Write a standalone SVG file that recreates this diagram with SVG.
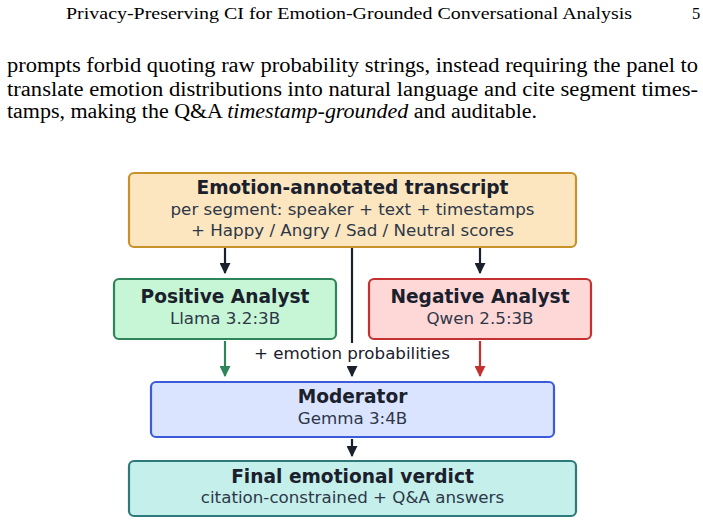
<svg xmlns="http://www.w3.org/2000/svg" width="703" height="524" viewBox="0 0 703 524">
<style>
.page{font-family:"Liberation Serif","DejaVu Serif",serif;fill:#000}
.hdr{font-size:16.5px}
.body{font-size:20px}
.box{stroke-width:2.2}
.t{font-family:"DejaVu Sans",sans-serif;font-weight:bold;font-size:18.6px;fill:#1a202c;text-anchor:middle}
.s{font-family:"DejaVu Sans",sans-serif;font-size:16.7px;fill:#2d3748;text-anchor:middle}
.lab{font-family:"DejaVu Sans",sans-serif;font-size:16.7px;fill:#1a202c;text-anchor:middle}
.ln{stroke-width:2.2;fill:none}
</style>
<defs>
<marker id="ak" viewBox="0 0 10 10" refX="9" refY="5" markerWidth="5" markerHeight="5" markerUnits="strokeWidth" orient="auto"><path d="M0,0L10,5L0,10z" fill="#1a202c"/></marker>
<marker id="ag" viewBox="0 0 10 10" refX="9" refY="5" markerWidth="5" markerHeight="5" markerUnits="strokeWidth" orient="auto"><path d="M0,0L10,5L0,10z" fill="#2f855a"/></marker>
<marker id="ar" viewBox="0 0 10 10" refX="9" refY="5" markerWidth="5" markerHeight="5" markerUnits="strokeWidth" orient="auto"><path d="M0,0L10,5L0,10z" fill="#c53030"/></marker>
</defs>
<rect width="703" height="524" fill="#fff"/>
<g id="page-text" class="page">
<text class="hdr" x="66" y="19" textLength="566" lengthAdjust="spacingAndGlyphs">Privacy-Preserving CI for Emotion-Grounded Conversational Analysis</text>
<text class="hdr" x="692" y="19">5</text>
<text class="body" x="7" y="72" textLength="691" lengthAdjust="spacingAndGlyphs">prompts forbid quoting raw probability strings, instead requiring the panel to</text>
<text class="body" x="7" y="96" textLength="691" lengthAdjust="spacingAndGlyphs">translate emotion distributions into natural language and cite segment times-</text>
<text class="body" x="7" y="118" textLength="530" lengthAdjust="spacingAndGlyphs">tamps, making the Q&amp;A <tspan font-style="italic">timestamp-grounded</tspan> and auditable.</text>
</g>
<g id="connectors">
<path class="ln" stroke="#1a202c" d="M225,248V273" marker-end="url(#ak)"/>
<path class="ln" stroke="#1a202c" d="M480,248V273" marker-end="url(#ak)"/>
<path class="ln" stroke="#1a202c" d="M352,248V376" marker-end="url(#ak)"/>
<path class="ln" stroke="#2f855a" d="M225,341V376" marker-end="url(#ag)"/>
<path class="ln" stroke="#c53030" d="M480,341V376" marker-end="url(#ar)"/>
<path class="ln" stroke="#1a202c" d="M352,439V456" marker-end="url(#ak)"/>
<rect x="250" y="343" width="205" height="23" fill="#fff"/>
<text class="lab" x="352" y="359">+ emotion probabilities</text>
</g>
<g id="transcript">
<rect class="box" x="129" y="173" width="447" height="74" rx="5" fill="#fce6c0" stroke="#c8922a"/>
<text class="t" x="352.5" y="194">Emotion-annotated transcript</text>
<text class="s" x="352.5" y="215">per segment: speaker + text + timestamps</text>
<text class="s" x="352.5" y="236">+ Happy / Angry / Sad / Neutral scores</text>
</g>
<g id="positive">
<rect class="box" x="114" y="279" width="222" height="60" rx="5" fill="#c6f6d5" stroke="#2f855a"/>
<text class="t" x="225" y="303">Positive Analyst</text>
<text class="s" x="225" y="324">Llama 3.2:3B</text>
</g>
<g id="negative">
<rect class="box" x="369" y="279" width="222" height="60" rx="5" fill="#fed7d7" stroke="#c53030"/>
<text class="t" x="480" y="303">Negative Analyst</text>
<text class="s" x="480" y="324">Qwen 2.5:3B</text>
</g>
<g id="moderator">
<rect class="box" x="151" y="382" width="403" height="55" rx="5" fill="#dbe4ff" stroke="#3b5bdb"/>
<text class="t" x="352.5" y="403">Moderator</text>
<text class="s" x="352.5" y="424">Gemma 3:4B</text>
</g>
<g id="verdict">
<rect class="box" x="129" y="461" width="447" height="55" rx="5" fill="#c4efeb" stroke="#2c7a7b"/>
<text class="t" x="352.5" y="483">Final emotional verdict</text>
<text class="s" x="352.5" y="503">citation-constrained + Q&amp;A answers</text>
</g>
</svg>
